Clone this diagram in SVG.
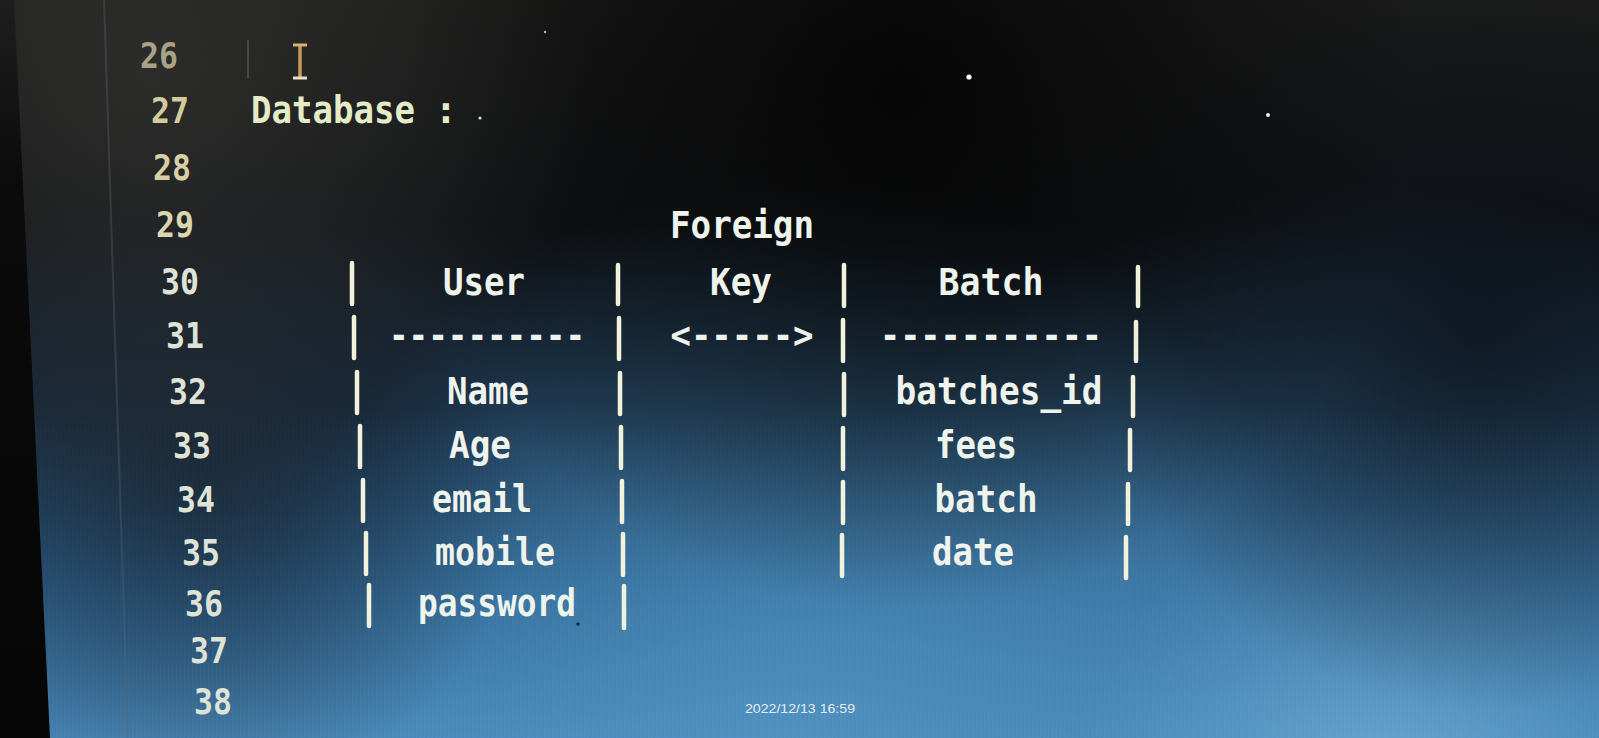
<svg xmlns="http://www.w3.org/2000/svg" width="1599" height="738" viewBox="0 0 1599 738">
<defs>
<linearGradient id="base" x1="0" y1="0" x2="0" y2="1">
<stop offset="0" stop-color="#1b1b1a"/>
<stop offset="0.3" stop-color="#111316"/>
<stop offset="0.55" stop-color="#15283c"/>
<stop offset="0.8" stop-color="#2c6390"/>
<stop offset="1" stop-color="#4787b8"/>
</linearGradient>
<radialGradient id="glowR" cx="1380" cy="820" r="640" gradientUnits="userSpaceOnUse">
<stop offset="0" stop-color="#72b0d8" stop-opacity="0.9"/>
<stop offset="0.5" stop-color="#4a88b6" stop-opacity="0.4"/>
<stop offset="1" stop-color="#4a88b6" stop-opacity="0"/>
</radialGradient>
<radialGradient id="glowC" cx="800" cy="740" r="560" gradientUnits="userSpaceOnUse">
<stop offset="0" stop-color="#5093c2" stop-opacity="0.75"/>
<stop offset="1" stop-color="#5093c2" stop-opacity="0"/>
</radialGradient>
<radialGradient id="darkTop" cx="900" cy="90" r="520" gradientUnits="userSpaceOnUse">
<stop offset="0" stop-color="#040404" stop-opacity="0.9"/>
<stop offset="1" stop-color="#040404" stop-opacity="0"/>
</radialGradient>
<radialGradient id="darkRight" cx="1480" cy="330" r="380" gradientUnits="userSpaceOnUse">
<stop offset="0" stop-color="#0a1018" stop-opacity="0.75"/>
<stop offset="1" stop-color="#0a1018" stop-opacity="0"/>
</radialGradient>
<radialGradient id="greyTL" cx="150" cy="80" r="440" gradientUnits="userSpaceOnUse">
<stop offset="0" stop-color="#3a3a36" stop-opacity="0.6"/>
<stop offset="1" stop-color="#3a3a36" stop-opacity="0"/>
</radialGradient>
<radialGradient id="darkLeft" cx="200" cy="470" r="330" gradientUnits="userSpaceOnUse">
<stop offset="0" stop-color="#1a2430" stop-opacity="0.75"/>
<stop offset="1" stop-color="#1a2430" stop-opacity="0"/>
</radialGradient>
<linearGradient id="bezel" x1="0" y1="0" x2="0" y2="1">
<stop offset="0" stop-color="#1e1e1e"/>
<stop offset="0.25" stop-color="#0b0b0b"/>
<stop offset="1" stop-color="#060606"/>
</linearGradient>
<pattern id="scan" width="4" height="8" patternUnits="userSpaceOnUse">
<rect x="0" y="0" width="1.5" height="8" fill="#ffffff" fill-opacity="0.035"/>
</pattern>
<linearGradient id="scanMask" x1="0" y1="0" x2="0" y2="1">
<stop offset="0.4" stop-color="#fff" stop-opacity="0"/>
<stop offset="1" stop-color="#fff" stop-opacity="1"/>
</linearGradient>
<mask id="scanM"><rect width="1599" height="738" fill="url(#scanMask)"/></mask>
</defs>
<style>
.t{font-family:"DejaVu Sans Mono","Liberation Mono",monospace;font-weight:bold;font-size:37px;fill:#eef4ec;text-anchor:middle;lengthAdjust:spacingAndGlyphs}
.n{font-family:"DejaVu Sans Mono","Liberation Mono",monospace;font-weight:bold;font-size:36px;fill:#dfe3d6}
.bar{stroke:#f1f1dc;stroke-width:4.5;stroke-linecap:round}
</style>

<g id="background">
<rect width="1599" height="738" fill="url(#base)"/>
<rect width="1599" height="738" fill="url(#glowC)"/>
<rect width="1599" height="738" fill="url(#glowR)"/>
<rect width="1599" height="738" fill="url(#darkLeft)"/>
<rect width="1599" height="738" fill="url(#darkRight)"/>
<rect width="1599" height="738" fill="url(#darkTop)"/>
<rect width="1599" height="738" fill="url(#greyTL)"/>
<rect width="1599" height="738" fill="url(#scan)" mask="url(#scanM)"/>
<polygon points="0,0 14,0 50,738 0,738" fill="url(#bezel)"/>
<line x1="104" y1="0" x2="128" y2="738" stroke="#5a6670" stroke-opacity="0.35" stroke-width="2"/>
<line x1="248" y1="40" x2="248" y2="78" stroke="#6a6a60" stroke-opacity="0.5" stroke-width="2"/>
<circle cx="969" cy="77" r="2.6" fill="#ffffff"/>
<circle cx="1268" cy="115" r="2" fill="#f0f0f0"/>
<circle cx="480" cy="118" r="1.6" fill="#d8d8d0"/>
<circle cx="545" cy="32" r="1.2" fill="#b8b8b0"/>
<circle cx="578" cy="624" r="1.6" fill="#0a1420"/>
</g>

<g id="line-numbers">
<text class="n" x="140" y="68" textLength="38" lengthAdjust="spacingAndGlyphs" style="fill:#a9a385">26</text>
<text class="n" x="151" y="123" textLength="38" lengthAdjust="spacingAndGlyphs" style="fill:#d4cb9c">27</text>
<text class="n" x="153" y="180" textLength="38" lengthAdjust="spacingAndGlyphs" style="fill:#d8d0a4">28</text>
<text class="n" x="156" y="237" textLength="38" lengthAdjust="spacingAndGlyphs" style="fill:#dcd6b0">29</text>
<text class="n" x="161" y="294" textLength="38" lengthAdjust="spacingAndGlyphs">30</text>
<text class="n" x="166" y="348" textLength="38" lengthAdjust="spacingAndGlyphs">31</text>
<text class="n" x="169" y="404" textLength="38" lengthAdjust="spacingAndGlyphs">32</text>
<text class="n" x="173" y="458" textLength="38" lengthAdjust="spacingAndGlyphs">33</text>
<text class="n" x="177" y="512" textLength="38" lengthAdjust="spacingAndGlyphs">34</text>
<text class="n" x="182" y="565" textLength="38" lengthAdjust="spacingAndGlyphs">35</text>
<text class="n" x="185" y="616" textLength="38" lengthAdjust="spacingAndGlyphs">36</text>
<text class="n" x="190" y="663" textLength="38" lengthAdjust="spacingAndGlyphs">37</text>
<text class="n" x="194" y="714" textLength="38" lengthAdjust="spacingAndGlyphs">38</text>
</g>

<g id="cursor">
<line x1="300" y1="45" x2="300" y2="78" stroke="#c89b5c" stroke-width="3.5"/>
<line x1="293" y1="45" x2="307" y2="45" stroke="#d8b070" stroke-width="3"/>
<line x1="293" y1="78" x2="307" y2="78" stroke="#e6e0c8" stroke-width="3"/>
</g>

<g id="heading">
<text class="t" x="251" y="123" textLength="164" lengthAdjust="spacingAndGlyphs" style="text-anchor:start;fill:#e3ecc6">Database</text>
<text class="t" x="446" y="123" style="fill:#e3ecc6">:</text>
</g>

<g id="foreign-key-label">
<text class="t" x="742" y="238" textLength="144" lengthAdjust="spacingAndGlyphs">Foreign</text>
<text class="t" x="741" y="295" textLength="62" lengthAdjust="spacingAndGlyphs">Key</text>
<text class="t" x="742" y="348" textLength="143" lengthAdjust="spacingAndGlyphs">&lt;-----&gt;</text>
</g>

<g id="user-table">
<text class="t" x="484" y="295" textLength="82" lengthAdjust="spacingAndGlyphs">User</text>
<text class="t" x="487" y="348" textLength="196" lengthAdjust="spacingAndGlyphs">----------</text>
<text class="t" x="488" y="404" textLength="82" lengthAdjust="spacingAndGlyphs">Name</text>
<text class="t" x="480" y="458" textLength="62" lengthAdjust="spacingAndGlyphs">Age</text>
<text class="t" x="482" y="512" textLength="100" lengthAdjust="spacingAndGlyphs">email</text>
<text class="t" x="495" y="565" textLength="120" lengthAdjust="spacingAndGlyphs">mobile</text>
<text class="t" x="497" y="616" textLength="158" lengthAdjust="spacingAndGlyphs">password</text>
</g>

<g id="batch-table">
<text class="t" x="991" y="295" textLength="105" lengthAdjust="spacingAndGlyphs">Batch</text>
<text class="t" x="991" y="348" textLength="222" lengthAdjust="spacingAndGlyphs">-----------</text>
<text class="t" x="999" y="404" textLength="207" lengthAdjust="spacingAndGlyphs">batches_id</text>
<text class="t" x="976" y="458" textLength="82" lengthAdjust="spacingAndGlyphs">fees</text>
<text class="t" x="986" y="512" textLength="103" lengthAdjust="spacingAndGlyphs">batch</text>
<text class="t" x="973" y="565" textLength="82" lengthAdjust="spacingAndGlyphs">date</text>
</g>

<g id="connectors">
<line class="bar" x1="352" y1="263" x2="352" y2="304"/>
<line class="bar" x1="618" y1="265" x2="618" y2="304"/>
<line class="bar" x1="844" y1="265" x2="844" y2="306"/>
<line class="bar" x1="1138" y1="267" x2="1138" y2="306"/>

<line class="bar" x1="354" y1="317" x2="354" y2="358"/>
<line class="bar" x1="619" y1="318" x2="619" y2="359"/>
<line class="bar" x1="843" y1="320" x2="843" y2="361"/>
<line class="bar" x1="1136" y1="322" x2="1136" y2="361"/>

<line class="bar" x1="357" y1="372" x2="357" y2="413"/>
<line class="bar" x1="620" y1="373" x2="620" y2="414"/>
<line class="bar" x1="844" y1="374" x2="844" y2="415"/>
<line class="bar" x1="1133" y1="377" x2="1133" y2="416"/>

<line class="bar" x1="360" y1="426" x2="360" y2="467"/>
<line class="bar" x1="621" y1="427" x2="621" y2="468"/>
<line class="bar" x1="843" y1="428" x2="843" y2="469"/>
<line class="bar" x1="1130" y1="430" x2="1130" y2="470"/>

<line class="bar" x1="363" y1="480" x2="363" y2="521"/>
<line class="bar" x1="622" y1="481" x2="622" y2="522"/>
<line class="bar" x1="843" y1="482" x2="843" y2="523"/>
<line class="bar" x1="1128" y1="484" x2="1128" y2="524"/>

<line class="bar" x1="366" y1="533" x2="366" y2="574"/>
<line class="bar" x1="623" y1="534" x2="623" y2="575"/>
<line class="bar" x1="842" y1="535" x2="842" y2="576"/>
<line class="bar" x1="1126" y1="537" x2="1126" y2="578"/>

<line class="bar" x1="369" y1="585" x2="369" y2="626"/>
<line class="bar" x1="624" y1="586" x2="624" y2="628"/>
</g>

<g id="timestamp">
<text x="800" y="713" font-family="Liberation Sans, Arial, sans-serif" font-size="13" fill="#e4ecf0" text-anchor="middle" textLength="110" lengthAdjust="spacingAndGlyphs">2022/12/13 16:59</text>
</g>
</svg>
